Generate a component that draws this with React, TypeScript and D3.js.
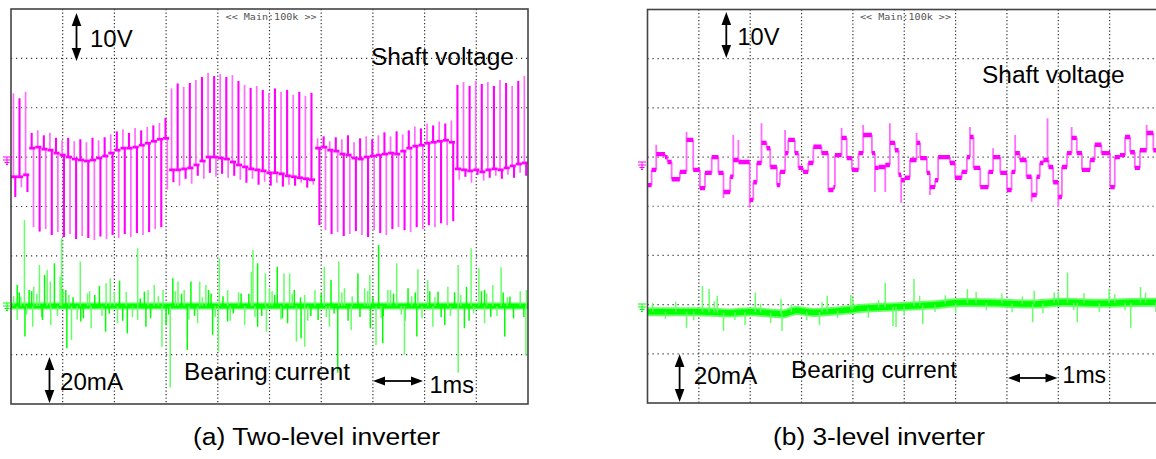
import React from 'react';
import * as d3 from 'd3';

// ---------------- DATA ----------------
// time base: 1 ms / div, 10 divisions
const timeDomain = [0, 10];
const gridDivisionsX = [1, 2, 3, 4, 5, 6, 7, 8, 9];
const gridDivisionsY = [1, 2, 3, 4, 5, 6, 7];

// (a) two-level inverter, shaft voltage (V): per switching spike
const shaftATop = [
  13.5, 12.5, 13.8,
  5.5, 6, 5, 5.5, 4.5, 4, 4.5, 3.8, 4.2, 3.6, 4.5, 4, 4.6, 5.2, 5.8, 6.2, 5.5, 6.5, 6, 6.7, 7, 7.5, 8.5,
  14.5, 15.5, 14.8, 15.6, 16.2, 16.8, 17.6, 17, 17.4, 16.8, 17.2, 16, 15.2, 14.6, 15, 14.2, 13.6, 14.5, 13.8, 14.2, 13.2, 13.8, 13, 13.6,
  4.4, 4.8, 3.8, 4.6, 4.2, 5, 3.6, 4.4, 4.8, 4.2, 5, 5.6, 4.8, 5.8, 5.2, 6, 6.8, 6.4, 7.4, 7, 7.8, 7.4, 8,
  15.2, 15.8, 15, 16, 15.4, 15.8, 15, 16.2, 15.6, 15, 16, 17,
];
const shaftABottom = [
  -7.5, -5.5, -6.5,
  -13.6, -14.5, -14, -15.2, -14.6, -15.6, -15, -16, -15.4, -15.8, -16.2, -15.5, -16, -15.2, -15.8, -15, -15.6, -14.8, -15.2, -14.6, -14, -13.6, -6,
  -4.5, -5.2, -3.8, -4.8, -3.2, -3.8, -2.6, -3.4, -2.8, -3.6, -3.2, -4, -4.6, -3.8, -5, -4.4, -5.2, -4.6, -5.4, -5, -5.2, -4.6, -5.6, -5,
  -13.2, -14.2, -15, -14.6, -15.4, -15, -14.4, -15.2, -15.6, -14.2, -14.8, -15.2, -14, -13.6, -14.2, -14.6, -13.6, -14, -13.2, -13.6, -12.8, -13.2, -12.4,
  -4, -3.4, -4.6, -3, -4.2, -3.6, -3.2, -3.8, -3, -3.6, -2.6, -3.2,
];
const shaftABase = [
  -3.4, -3.4, -3,
  2.4, 2.6, 2.2, 2, 1.4, 1, 0.6, 0.2, 0, -0.2, 0, 0.4, 0.8, 1.4, 2, 2.4, 2.4, 2.6, 3, 3.4, 3.8, 4.2, 4.4,
  -2, -2, -1.8, -1.6, -1, -0.2, 0.6, 0.6, 0.4, 0.2, -0.4, -1, -1.4, -1.8, -2, -2.2, -2.6, -2.6, -2.8, -3.2, -3.4, -3.6, -3.8, -4,
  2.4, 2.6, 2, 1.8, 1.2, 1, 0.4, 0.2, 0.6, 0.8, 1, 1.2, 1.4, 1.2, 1.8, 2.4, 2.8, 3, 3.4, 3.6, 3.8, 4, 3.6,
  -1.8, -2, -2.2, -2, -2.4, -2, -1.8, -2, -1.6, -1.2, -0.8, -0.6,
];

// (a) bearing current (mA): spikes
const bearingAUpT = [0.12, 0.19, 0.26, 0.35, 0.44, 0.55, 0.65, 0.7, 0.76, 0.84, 0.95, 0.98, 1.06, 1.34, 1.48, 1.71, 1.84, 1.92, 2.1, 2.23, 2.45, 2.58, 2.77, 2.94, 3.13, 3.23, 3.35, 3.48, 3.65, 3.77, 3.87, 4.03, 4.19, 4.45, 4.65, 4.68, 4.77, 4.92, 5.0, 5.15, 5.28, 5.39, 5.48, 5.68, 6.06, 6.19, 6.34, 6.45, 6.71, 6.84, 6.94, 7.11, 7.29, 7.46, 7.68, 7.87, 8.06, 8.26, 8.45, 8.65, 8.81, 8.9, 9.05, 9.16, 9.32, 9.48, 9.65, 9.97];
const bearingAUpV = [8.5, 3.8, 34.8, 6.5, 7.8, 16.6, 12.6, 14.6, 9.9, 17.3, 11.9, 27.4, 6.5, 18, 5.1, 8.1, 9.2, 11.2, 10.3, 5.8, 23.4, 5.8, 8.5, 6.5, 11.2, 9.9, 6.5, 9.9, 9.9, 8.5, 5.1, 19.3, 6.5, 5.1, 13.9, 22.7, 17.3, 13.2, 7.2, 15.9, 13.2, 13.2, 6.5, 4.5, 15.9, 10.5, 18, 7.2, 13.2, 7.2, 12.6, 24.7, 6.5, 17.3, 7.2, 14.9, 10.5, 5.8, 7.8, 16.6, 7.8, 23.4, 15.3, 6.5, 8.5, 15.7, 3.8, 6.5];
const bearingADownT = [0.12, 0.27, 0.42, 0.61, 0.77, 1.08, 1.17, 1.35, 1.55, 1.83, 2.06, 2.25, 2.45, 2.61, 2.92, 3.0, 3.08, 3.41, 3.61, 3.9, 4.01, 4.19, 4.52, 4.77, 4.94, 5.35, 5.52, 5.61, 5.68, 5.94, 6.16, 6.32, 6.58, 6.95, 7.06, 7.19, 7.61, 7.85, 8.16, 8.39, 8.65, 8.77, 9.16, 9.55, 9.96];
const bearingADownV = [-5.7, -12.4, -8.4, -5.7, -7.7, -17.1, -13.8, -6.3, -9, -10.4, -7, -11.1, -5.7, -8.4, -16.5, -7.7, -33, -17.8, -7, -11.7, -18.5, -6.3, -7.7, -8.4, -10.4, -7, -14.4, -13.1, -16.5, -5.7, -8.4, -27, -9.7, -9, -15.8, -15.1, -19.8, -12.4, -8.4, -7.7, -27, -9, -7, -12.4, -20];
const bearingAFuzzT = [0.05, 0.16, 0.3, 0.4, 0.5, 0.6, 0.9, 1.0, 1.12, 1.2, 1.28, 1.4, 1.52, 1.62, 1.76, 1.9, 2.0, 2.16, 2.35, 2.5, 2.65, 2.7, 2.85, 3.05, 3.18, 3.3, 3.44, 3.55, 3.7, 3.82, 3.95, 4.1, 4.24, 4.3, 4.4, 4.6, 4.72, 4.85, 5.05, 5.1, 5.22, 5.25, 5.44, 5.6, 5.74, 5.8, 5.88, 6.0, 6.1, 6.25, 6.4, 6.52, 6.6, 6.75, 6.9, 7.0, 7.16, 7.2, 7.34, 7.4, 7.55, 7.62, 7.75, 7.82, 7.95, 8.1, 8.2, 8.32, 8.5, 8.58, 8.7, 8.86, 8.95, 9.1, 9.2, 9.28, 9.4, 9.52, 9.6, 9.72, 9.85, 9.92];
const bearingAFuzzV = [4, 5.5, -3.5, 6, 5, -4.5, -4, 6.5, 4.5, 3.5, -5.5, -5, 6, 4.5, -4, -3, 5.5, -6, -4.5, 3, 6.5, -5, 4, -3.5, 6, 5, -5.5, -4, 3.5, 6.5, -4.5, 4, -6, -3, 5.5, 5, -4.5, -4, 6, 4.5, -5.5, -5, 5, 3.5, -6, -4, 6.5, 5, -4.5, -3, 5.5, -6, 4, -4.5, 6, 3.5, -5, -4, 6.5, 5, -3.5, -6, 4, 5.5, -5, 6, 3.5, -4.5, -4, 5.5, 4.5, -6, -3, 6, 5, -4.5, -4, 5.5, 3.5, -5, 6, -4.5];

// (b) three-level inverter, shaft voltage (V): step breakpoints
const shaftBT = [0, 0.08, 0.17, 0.34, 0.39, 0.47, 0.63, 0.76, 0.89, 1.02, 1.12, 1.25, 1.38, 1.48, 1.61, 1.67, 1.77, 1.99, 2.06, 2.13, 2.22, 2.32, 2.39, 2.52, 2.58, 2.68, 2.74, 2.87, 2.94, 3.03, 3.13, 3.23, 3.39, 3.52, 3.62, 3.65, 3.78, 3.88, 3.98, 4.11, 4.2, 4.37, 4.43, 4.5, 4.63, 4.72, 4.82, 4.89,
  4.94, 5.01, 5.11, 5.24, 5.31, 5.44, 5.5, 5.6, 5.66, 5.89, 5.99, 6.12, 6.22, 6.28, 6.35, 6.48, 6.64, 6.73, 6.87, 7.0, 7.09, 7.16, 7.25, 7.38, 7.48, 7.58, 7.64, 7.71, 7.81, 7.9, 8.0, 8.07, 8.17, 8.26, 8.36, 8.46, 8.62, 8.71, 8.84, 9.01, 9.1, 9.2, 9.3, 9.4, 9.49, 9.59, 9.72, 9.85];
const shaftBV = [-4.5, -1.4, 1.8, 1.2, 0.2, -3.3, -1.8, 4.7, -1.4, -5.1, -2.0, 1.2, -2.0, -5.9, -2.8, 0.6, 0.2, -7.5, -3.9, 0, 4.1, 3.0, -0.8, -4.5, -1.8, 2.0, 4.7, 2.0, -1.0, -1.8, 0, 3.3, 2.0, -5.5, -4.9, 1.6, 5.1, 1.0, -1.4, 2.0, 5.7, 2.0, -1.0, -0.8, -0.4, 4.1, 2.6, -2.4,
  -3.5, -3.0, 0.6, 4.1, 1.0, -2.0, -4.9, -3.5, 1.2, 0, -3.0, -1.8, 1.2, 5.3, -1.0, -4.9, -1.8, 1.2, -2.0, -5.5, -1.8, 2.0, 0.6, -2.8, -6.5, -2.8, 0, 0.6, -0.8, -3.9, -6.9, -0.8, 2.0, 5.1, 2.0, -1.4, 0.6, 3.7, 2.0, -4.9, 1.2, 1.6, 5.3, 2.2, -1.0, 2.6, 6.1, 2.6];
const shaftBSpikeT = [0.17, 0.76, 1.48, 1.67, 1.77, 1.99, 2.22, 2.68, 3.78, 4.2, 4.43, 4.63, 4.72, 4.94, 5.24, 5.5, 6.28, 6.73, 7.16, 7.48, 7.79, 8.0, 8.26, 9.72];
const shaftBSpikeV = [3.7, 6.3, -7.1, 5.7, 4.7, -9.1, 8.1, 6.7, 7.1, 7.7, -5.9, -5.9, 8.1, -8.1, 6.1, -6.5, 7.3, 3.0, 5.7, -7.9, 9.1, -9.0, 7.3, 7.7];

// (b) bearing current (mA)
const bearingBBaseT = [0, 0.96, 1.6, 2.0, 2.64, 2.9, 3.23, 3.88, 4.2, 4.85, 5.5, 6.15, 6.8, 7.45, 8.1, 8.75, 9.4, 10];
const bearingBBaseV = [-1.9, -1.9, -2.4, -1.9, -2.8, -1.4, -2.2, -1.2, -0.5, 0.1, 0.8, 1.8, 1.6, 1.2, 1.9, 1.5, 1.8, 2.0];
const bearingBSpikeT = [0.76, 1.07, 1.2, 1.36, 1.48, 1.9, 2.1, 2.6, 2.62, 3.35, 3.5, 3.96, 4.63, 4.78, 4.84, 5.19, 5.36, 6.23, 7.5, 7.53, 7.92, 8.18, 8.37, 8.99, 9.41, 9.6];
const bearingBSpikeV = [-8.5, 8.5, 7.3, 4.6, -9.8, -7.3, 5.9, 3.3, -9.8, -7.3, 4.6, 4.9, 9.8, -7.7, -8.1, 11.4, -6.9, 7.3, -6.2, 6.6, 5.9, 14, -6.2, 7.3, -8.5, 8.1];
const bearingBFuzzT = [0.1, 0.35, 0.55, 0.9, 1.3, 1.7, 2.2, 2.4, 2.8, 3.1, 3.4, 3.7, 4.0, 4.3, 4.5, 5.0, 5.3, 5.6, 5.8, 6.0, 6.4, 6.6, 6.9, 7.1, 7.3, 7.7, 8.0, 8.3, 8.5, 8.8, 9.1, 9.3, 9.7, 9.9];
const bearingBFuzzOffset = [3.5, -3, 4, -3.5, 4.5, -3, 3.5, -4, 3, -3.5, 4, -3, 4.5, -4, 3, -3.5, 4, -3, 3.5, -4, 4.5, -3, 4, -3.5, 3, -4, 4.5, -3, 4, -3.5, 3.5, -3, 4, -4];

// ---------------- LAYOUT / STYLE ----------------
const FONT = "'Liberation Sans', Arial, Helvetica, sans-serif";
const MAG = '#ff00ff';
const MAG_L = '#ff6cff';
const GRN = '#00ff00';
const GRN_L = '#66ff66';

const A = { left: 11, right: 528, top: 9, bottom: 404, gndV: 160, gndI: 306 };
const B = { left: 647.5, right: 1161, top: 9.5, bottom: 403, gndV: 163, gndI: 307 };

function VArrow({ x, y1, y2 }: { x: number; y1: number; y2: number }) {
  const h = 13, w = 4.8;
  return (
    <g>
      <line x1={x} x2={x} y1={y1 + h - 1} y2={y2 - h + 1} stroke="#000" strokeWidth={1.8} />
      <polygon points={`${x},${y1} ${x - w},${y1 + h} ${x + w},${y1 + h}`} fill="#000" />
      <polygon points={`${x},${y2} ${x - w},${y2 - h} ${x + w},${y2 - h}`} fill="#000" />
    </g>
  );
}
function HArrow({ x1, x2, y }: { x1: number; x2: number; y: number }) {
  const h = 12, w = 4.5;
  return (
    <g>
      <line x1={x1 + h - 1} x2={x2 - h + 1} y1={y} y2={y} stroke="#000" strokeWidth={1.8} />
      <polygon points={`${x1},${y} ${x1 + h},${y - w} ${x1 + h},${y + w}`} fill="#000" />
      <polygon points={`${x2},${y} ${x2 - h},${y - w} ${x2 - h},${y + w}`} fill="#000" />
    </g>
  );
}
function Label({ x, y, w, text, size = 23 }: { x: number; y: number; w: number; text: string; size?: number }) {
  return (
    <text x={x} y={y} fontFamily={FONT} fontSize={size} fill="#000" textLength={w} lengthAdjust="spacingAndGlyphs">
      {text}
    </text>
  );
}
function Ground({ x, y, color }: { x: number; y: number; color: string }) {
  return (
    <g stroke={color} strokeWidth={1}>
      <line x1={x} x2={x + 8} y1={y - 3} y2={y - 3} />
      <line x1={x + 4} x2={x + 4} y1={y - 3} y2={y + 4} />
      <line x1={x} x2={x + 8} y1={y} y2={y} />
      <line x1={x + 1.5} x2={x + 6.5} y1={y + 2.5} y2={y + 2.5} />
      <line x1={x + 3} x2={x + 5} y1={y + 4.5} y2={y + 4.5} />
    </g>
  );
}

function Grid({ P, xs }: { P: typeof A; xs: d3.ScaleLinear<number, number> }) {
  const gy = d3.scaleLinear().domain([0, 8]).range([P.top, P.bottom]);
  return (
    <g>
      {gridDivisionsX.map((d) => (
        <line key={'v' + d} x1={xs(d)} x2={xs(d)} y1={P.top} y2={P.bottom} stroke="#333" strokeWidth={1.2} strokeDasharray="1.2 2.3" />
      ))}
      {gridDivisionsY.map((d) => (
        <line key={'h' + d} x1={P.left} x2={P.right} y1={gy(d)} y2={gy(d)} stroke="#333" strokeWidth={1.2} strokeDasharray="1.2 3.8" />
      ))}
    </g>
  );
}

export default function App() {
  // ----- scales panel (a)
  const axs = d3.scaleLinear().domain(timeDomain).range([A.left, A.right]);
  const aV = d3.scaleLinear().domain([0, 10]).range([A.gndV, A.gndV - 49.375]);
  const aI = d3.scaleLinear().domain([0, 20]).range([A.gndI, A.gndI - 49.375]);
  // ----- scales panel (b)
  const bxs = d3.scaleLinear().domain(timeDomain).range([B.left, B.right]);
  const bV = d3.scaleLinear().domain([0, 10]).range([B.gndV, B.gndV - 49.19]);
  const bI = d3.scaleLinear().domain([0, 20]).range([B.gndI, B.gndI - 49.19]);

  // panel (a) shaft voltage
  const nA = shaftATop.length;
  const dtA = 10 / nA;
  const spikesA = shaftATop.map((top, i) => ({ t: (i + 0.5) * dtA, top, bottom: shaftABottom[i], base: shaftABase[i] }));

  // panel (b)
  const levelAt = (t: number) => shaftBV[Math.max(0, d3.bisectRight(shaftBT, t) - 1)];
  const bearingBBase = d3.scaleLinear().domain(bearingBBaseT).range(bearingBBaseV);
  const bearingBLine = d3
    .line<number>()
    .x((t) => bxs(t))
    .y((t) => bI(bearingBBase(t)))
    .curve(d3.curveMonotoneX)(bearingBBaseT);

  return (
    <svg width={1156} height={459} style={{ position: 'absolute', left: 0, top: 0, background: '#fff' }}>
      <defs>
        <clipPath id="clipA">
          <rect x={A.left} y={A.top} width={A.right - A.left} height={A.bottom - A.top} />
        </clipPath>
        <clipPath id="clipB">
          <rect x={B.left} y={B.top} width={B.right - B.left} height={B.bottom - B.top} />
        </clipPath>
      </defs>
      <rect x={0} y={0} width={1156} height={459} fill="#fff" />

      {/* ---------------- Panel (a) ---------------- */}
      <rect x={A.left} y={A.top} width={A.right - A.left} height={A.bottom - A.top} fill="#fff" />
      <Grid P={A} xs={axs} />
      <g clipPath="url(#clipA)">
        {/* bearing current (a) */}
        <line x1={axs(0)} x2={axs(10)} y1={aI(0)} y2={aI(0)} stroke={GRN_L} strokeWidth={7} />
        <line x1={axs(0)} x2={axs(10)} y1={aI(0)} y2={aI(0)} stroke={GRN} strokeWidth={4.5} />
        {bearingAFuzzT.map((t, i) => (
          <line key={'fa' + i} x1={axs(t)} x2={axs(t)} y1={aI(0)} y2={aI(bearingAFuzzV[i])} stroke={i % 2 ? GRN : GRN_L} strokeWidth={1.5} />
        ))}
        {bearingAUpT.map((t, i) => (
          <line key={'ua' + i} x1={axs(t)} x2={axs(t)} y1={aI(0)} y2={aI(bearingAUpV[i])} stroke={i % 3 === 0 ? GRN : GRN_L} strokeWidth={1.5} />
        ))}
        {bearingADownT.map((t, i) => (
          <line key={'da' + i} x1={axs(t)} x2={axs(t)} y1={aI(0)} y2={aI(bearingADownV[i])} stroke={i % 2 === 0 ? GRN_L : GRN} strokeWidth={1.5} />
        ))}

        {/* shaft voltage (a) */}
        {spikesA.map((s, i) => (
          <g key={'sa' + i}>
            <line x1={axs(s.t - 0.012)} x2={axs(s.t - 0.012)} y1={aV(s.base)} y2={aV(s.top)} stroke={i % 2 ? MAG : MAG_L} strokeWidth={i % 2 ? 2.1 : 1.7} />
            <line x1={axs(s.t + 0.024)} x2={axs(s.t + 0.024)} y1={aV(s.base)} y2={aV(s.bottom)} stroke={i % 2 ? MAG_L : MAG} strokeWidth={i % 2 ? 1.7 : 2.1} />
          </g>
        ))}
        {spikesA.map((s, i) => (
          <line key={'ba' + i} x1={axs(s.t - 0.5 * dtA)} x2={axs(s.t + 0.5 * dtA)} y1={aV(s.base)} y2={aV(s.base)} stroke={MAG} strokeWidth={2.8} />
        ))}
      </g>
      <rect x={A.left} y={A.top} width={A.right - A.left} height={A.bottom - A.top} fill="none" stroke="#444" strokeWidth={1.6} />
      <Ground x={3} y={A.gndV} color={MAG} />
      <Ground x={3} y={A.gndI} color={GRN} />
      <text x={225.6} y={19.5} fontFamily="'DejaVu Sans Mono', monospace" fontSize={9.5} fill="#555" textLength={91} lengthAdjust="spacingAndGlyphs">{'<< Main:100k >>'}</text>
      <VArrow x={76.5} y1={13} y2={61} />
      <Label x={90} y={46.5} w={42.7} text="10V" />
      <Label x={371} y={65} w={143} text="Shaft voltage" />
      <VArrow x={49.5} y1={357} y2={403} />
      <Label x={60} y={390} w={63} text="20mA" />
      <Label x={184} y={380} w={166} text="Bearing current" />
      <HArrow x1={373} x2={423} y={381} />
      <Label x={429.5} y={393} w={44.5} text="1ms" />

      {/* ---------------- Panel (b) ---------------- */}
      <rect x={B.left} y={B.top} width={B.right - B.left} height={B.bottom - B.top} fill="#fff" />
      <Grid P={B} xs={bxs} />
      <g clipPath="url(#clipB)">
        {/* bearing current (b) */}
        <path d={bearingBLine || ''} fill="none" stroke={GRN_L} strokeWidth={9} />
        <path d={bearingBLine || ''} fill="none" stroke={GRN} strokeWidth={5.5} />
        {bearingBFuzzT.map((t, i) => (
          <line key={'fb' + i} x1={bxs(t)} x2={bxs(t)} y1={bI(bearingBBase(t))} y2={bI(bearingBBase(t) + bearingBFuzzOffset[i])} stroke={GRN_L} strokeWidth={1.4} />
        ))}
        {bearingBSpikeT.map((t, i) => (
          <line key={'sb' + i} x1={bxs(t)} x2={bxs(t)} y1={bI(bearingBBase(t))} y2={bI(bearingBSpikeV[i])} stroke={GRN_L} strokeWidth={1.5} />
        ))}

        {/* shaft voltage (b) */}
        {shaftBT.map((t, i) =>
          i === 0 ? null : (
            <line key={'eb' + i} x1={bxs(t)} x2={bxs(t)} y1={bV(shaftBV[i - 1])} y2={bV(shaftBV[i])} stroke={MAG_L} strokeWidth={1.8} />
          )
        )}
        {shaftBSpikeT.map((t, i) => (
          <line key={'kb' + i} x1={bxs(t)} x2={bxs(t)} y1={bV(levelAt(t))} y2={bV(shaftBSpikeV[i])} stroke={MAG_L} strokeWidth={1.8} />
        ))}
        {shaftBT.map((t, i) => (
          <line key={'pb' + i} x1={bxs(t)} x2={bxs(i < shaftBT.length - 1 ? shaftBT[i + 1] : 10)} y1={bV(shaftBV[i])} y2={bV(shaftBV[i])} stroke={MAG} strokeWidth={4.4} />
        ))}
      </g>
      <rect x={B.left} y={B.top} width={B.right - B.left} height={B.bottom - B.top} fill="none" stroke="#444" strokeWidth={1.6} />
      <Ground x={638} y={B.gndV + 2} color={MAG} />
      <Ground x={638} y={B.gndI} color={GRN} />
      <text x={860} y={19.5} fontFamily="'DejaVu Sans Mono', monospace" fontSize={9.5} fill="#555" textLength={91} lengthAdjust="spacingAndGlyphs">{'<< Main:100k >>'}</text>
      <VArrow x={726.3} y1={12} y2={58} />
      <Label x={737.5} y={45} w={42} text="10V" />
      <Label x={982} y={83} w={142.6} text="Shaft voltage" />
      <VArrow x={679.6} y1={354} y2={402} />
      <Label x={693.7} y={384} w={63.7} text="20mA" />
      <Label x={791} y={378} w={166} text="Bearing current" />
      <HArrow x1={1008} x2={1057.5} y={378} />
      <Label x={1062.6} y={383} w={43.5} text="1ms" />

      {/* captions */}
      <Label x={193} y={445} w={247} text="(a) Two-level inverter" />
      <Label x={773} y={445} w={212} text="(b) 3-level inverter" />
    </svg>
  );
}
